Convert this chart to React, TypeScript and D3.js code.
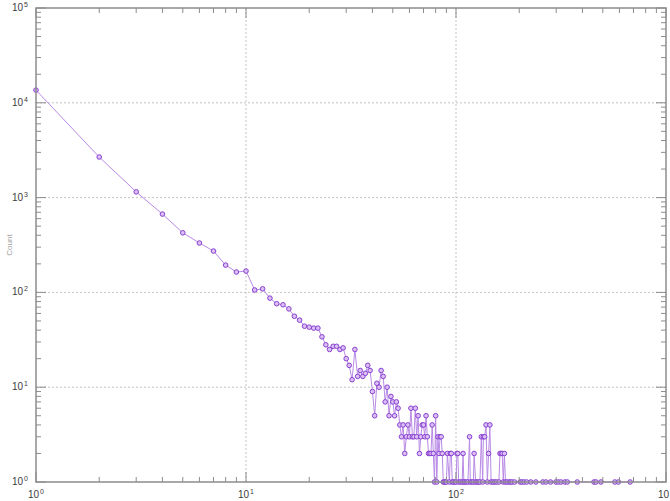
import React from "react";
import * as d3 from "d3";

// degree k and how many nodes have it
const degree = [
  1, 2, 3, 4, 5, 6, 7, 8, 9, 10, 11, 12, 13, 14, 15, 16, 17, 18, 19, 20,
  21, 22, 23, 24, 25, 26, 27, 28, 29, 30, 31, 32, 33, 34, 35, 36, 37, 38, 39, 40,
  41, 42, 43, 44, 45, 46, 47, 48, 49, 50, 51, 52, 53, 54, 55, 56, 57, 58, 59, 60,
  61, 62, 63, 64, 65, 66, 67, 68, 69, 70, 71, 72, 73, 74, 75, 76, 77, 78, 79, 80,
  81, 82, 83, 84, 85, 86, 87, 88, 89, 90, 91, 93, 94, 95, 96, 97, 99, 100, 101, 102,
  103, 105, 107, 108, 109, 110, 112, 114, 116, 117, 119, 121, 122, 124, 126, 128, 130, 132, 134, 135,
  137, 139, 141, 143, 145, 147, 150, 153, 156, 160, 162, 164, 166, 168, 170, 172, 175, 179, 182, 185,
  190, 202, 206, 211, 217, 227, 240, 259, 268, 282, 299, 307, 316, 330, 339, 378, 454, 464, 490, 571,
  593, 675,
];
const counts = [
  13600, 2680, 1150, 670, 425, 332, 273, 194, 164, 168, 106, 109, 87, 76, 74, 67, 56, 51, 44, 43,
  42, 42, 34, 28, 25, 27, 27, 25, 26, 20, 17, 12, 25, 13, 15, 13, 14, 17, 15, 9,
  5, 11, 10, 15, 13, 7, 10, 5, 8, 7, 5, 7, 6, 4, 3, 4, 2, 3, 4, 3,
  6, 3, 3, 6, 3, 5, 2, 3, 4, 4, 3, 5, 3, 2, 2, 2, 4, 2, 1, 5,
  1, 3, 2, 3, 3, 2, 1, 1, 1, 1, 2, 1, 2, 2, 1, 1, 1, 1, 2, 2,
  1, 1, 1, 2, 1, 1, 1, 1, 3, 1, 1, 1, 2, 1, 1, 1, 1, 3, 1, 3,
  3, 4, 1, 2, 4, 1, 1, 1, 1, 1, 2, 2, 2, 1, 2, 1, 1, 1, 1, 1,
  1, 1, 1, 1, 1, 1, 1, 1, 1, 1, 1, 1, 1, 1, 1, 1, 1, 1, 1, 1,
  1, 1,
];

const xMajor = [1, 10, 100, 1000];
const yMajor = [1, 10, 100, 1000, 10000, 100000];
const xExp = ["0", "1", "2", "3"];
const yExp = ["0", "1", "2", "3", "4", "5"];
const yLabel = "Count";

const W = 670;
const H = 501;
const plot = { left: 36, right: 666, top: 8, bottom: 482 };

const minorOf = (majors: number[]) => {
  const out: number[] = [];
  for (let i = 0; i < majors.length - 1; i++)
    for (let m = 2; m <= 9; m++) out.push(majors[i] * m);
  return out;
};

export default function App() {
  const x = d3.scaleLog().domain([1, 1000]).range([plot.left, plot.right]);
  const y = d3.scaleLog().domain([1, 100000]).range([plot.bottom, plot.top]);

  const line = d3
    .line<number>()
    .x((d) => x(d))
    .y((d, i) => y(counts[i]));

  const axisColor = "#8c8c8c";
  const xMinor = minorOf(xMajor);
  const yMinor = minorOf(yMajor);

  return (
    <svg
      width={W}
      height={H}
      style={{ position: "absolute", left: 0, top: 0, background: "#fff" }}
      fontFamily="Liberation Sans, Arial, sans-serif"
    >
      {/* grid */}
      <g stroke="#c4c4c4" strokeDasharray="2,2" strokeWidth={1}>
        {xMajor.slice(1, -1).map((v) => (
          <line key={"gx" + v} x1={x(v)} x2={x(v)} y1={plot.top} y2={plot.bottom} />
        ))}
        {yMajor.slice(1, -1).map((v) => (
          <line key={"gy" + v} x1={plot.left} x2={plot.right} y1={y(v)} y2={y(v)} />
        ))}
      </g>

      {/* data */}
      <path d={line(degree) || ""} fill="none" stroke="#b98ae6" strokeWidth={1} />
      <g>
        {degree.map((k, i) => (
          <circle
            key={k}
            cx={x(k)}
            cy={y(counts[i])}
            r={2.3}
            fill="#d9c0f5"
            stroke="#8a3fd1"
            strokeWidth={1}
          />
        ))}
      </g>

      {/* ticks, inward on all four sides */}
      <g stroke={axisColor} strokeWidth={1}>
        {xMinor.map((v) => (
          <g key={"tx" + v}>
            <line x1={x(v)} x2={x(v)} y1={plot.bottom} y2={plot.bottom - 5} />
            <line x1={x(v)} x2={x(v)} y1={plot.top} y2={plot.top + 5} />
          </g>
        ))}
        {xMajor.map((v) => (
          <g key={"txm" + v}>
            <line x1={x(v)} x2={x(v)} y1={plot.bottom} y2={plot.bottom - 10} />
            <line x1={x(v)} x2={x(v)} y1={plot.top} y2={plot.top + 10} />
          </g>
        ))}
        {yMinor.map((v) => (
          <g key={"ty" + v}>
            <line x1={plot.left} x2={plot.left + 5} y1={y(v)} y2={y(v)} />
            <line x1={plot.right} x2={plot.right - 5} y1={y(v)} y2={y(v)} />
          </g>
        ))}
        {yMajor.map((v) => (
          <g key={"tym" + v}>
            <line x1={plot.left} x2={plot.left + 10} y1={y(v)} y2={y(v)} />
            <line x1={plot.right} x2={plot.right - 10} y1={y(v)} y2={y(v)} />
          </g>
        ))}
      </g>

      {/* frame */}
      <rect
        x={plot.left}
        y={plot.top}
        width={plot.right - plot.left}
        height={plot.bottom - plot.top}
        fill="none"
        stroke={axisColor}
        strokeWidth={1.5}
      />

      {/* tick labels */}
      <g fill="#3c3c3c" fontSize={10}>
        {xMajor.map((v, i) => (
          <text key={"lx" + v} x={x(v)} y={498} textAnchor="middle">
            10
            <tspan fontSize={7} dy={-4} dx={1}>
              {xExp[i]}
            </tspan>
          </text>
        ))}
        {yMajor.map((v, i) => (
          <text key={"ly" + v} x={28} y={y(v) + 3} textAnchor="end">
            10
            <tspan fontSize={7} dy={-4} dx={1}>
              {yExp[i]}
            </tspan>
          </text>
        ))}
      </g>

      <text
        transform={`translate(12,${(plot.top + plot.bottom) / 2}) rotate(-90)`}
        textAnchor="middle"
        fontSize={8}
        fill="#a0a0a0"
      >
        {yLabel}
      </text>
    </svg>
  );
}
